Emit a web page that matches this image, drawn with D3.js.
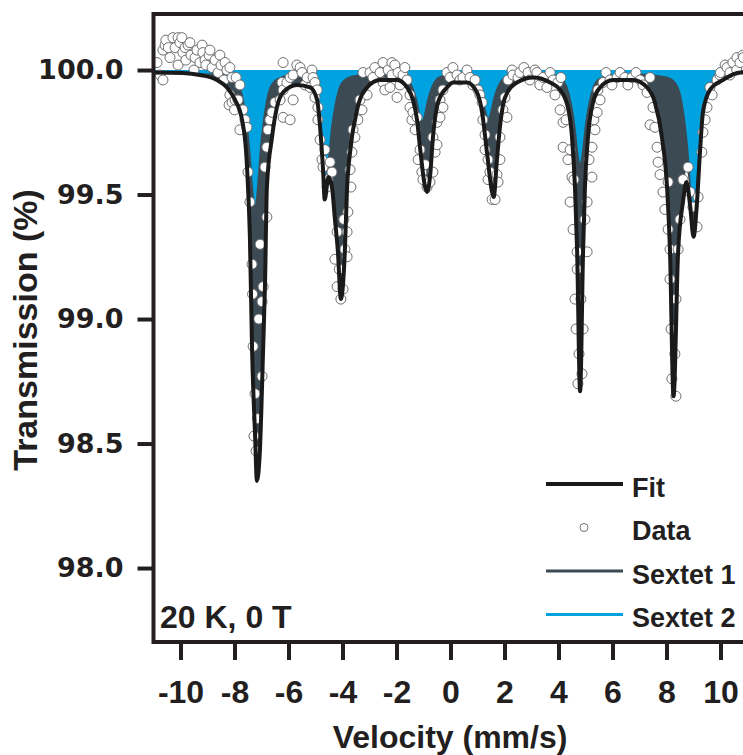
<!DOCTYPE html>
<html>
<head>
<meta charset="utf-8">
<title>Transmission vs velocity, 20 K</title>
<script src="https://cdn.jsdelivr.net/npm/d3@7"></script>
<style>
body { margin: 0; background: #fff; }
text { font-family: "Liberation Sans", Arial, sans-serif; font-weight: bold; fill: #231f20; }
</style>
</head>
<body>
<script>

// values (velocity mm/s, transmission %)
var xTicks = [-10, -8, -6, -4, -2, 0, 2, 4, 6, 8, 10]
var yTicks = [98.0, 98.5, 99.0, 99.5, 100.0]
var legendLabels = ["Fit", "Data", "Sextet 1", "Sextet 2"]
var condition = "20 K, 0 T"

var fitCurve = [[-11,99.99],[-9.91,99.988],[-9.28,99.98],[-8.65,99.96],[-8.28,99.93],[-7.98,99.88],[-7.72,99.80],[-7.57,99.67],[-7.5,99.53],[-7.43,99.33],[-7.35,98.88],[-7.24,98.54],[-7.17,98.35],[-7.06,98.47],[-6.94,98.88],[-6.87,99.14],[-6.80,99.53],[-6.61,99.73],[-6.43,99.85],[-6.2,99.91],[-5.69,99.94],[-5.2,99.93],[-4.94,99.88],[-4.83,99.77],[-4.72,99.60],[-4.66,99.48],[-4.52,99.57],[-4.39,99.53],[-4.28,99.40],[-4.17,99.27],[-4.06,99.08],[-3.98,99.14],[-3.91,99.28],[-3.83,99.53],[-3.72,99.67],[-3.46,99.84],[-3.09,99.93],[-2.61,99.96],[-1.98,99.96],[-1.61,99.93],[-1.39,99.88],[-1.24,99.80],[-1.13,99.69],[-0.94,99.53],[-0.87,99.51],[-0.76,99.57],[-0.65,99.73],[-0.46,99.87],[-0.13,99.93],[0.1,99.95],[0.61,99.95],[0.98,99.91],[1.17,99.83],[1.35,99.67],[1.54,99.51],[1.6,99.49],[1.72,99.64],[1.83,99.77],[2.02,99.89],[2.46,99.95],[3.06,99.97],[3.69,99.95],[4.06,99.92],[4.35,99.85],[4.5,99.73],[4.61,99.53],[4.69,99.27],[4.80,98.71],[4.91,99.27],[4.98,99.53],[5.09,99.73],[5.28,99.87],[5.54,99.93],[6.02,99.96],[6.76,99.96],[7.28,99.93],[7.57,99.87],[7.83,99.73],[8.02,99.53],[8.13,99.27],[8.26,98.69],[8.43,99.27],[8.61,99.47],[8.74,99.55],[8.88,99.45],[9.0,99.33],[9.13,99.47],[9.24,99.67],[9.35,99.83],[9.61,99.92],[10.09,99.96],[10.72,99.99],[11,99.99]]

var sextet1 = [[-11,99.995],[-9.91,99.99],[-9.28,99.985],[-8.65,99.965],[-8.28,99.935],[-7.98,99.885],[-7.72,99.81],[-7.57,99.68],[-7.5,99.54],[-7.43,99.35],[-7.35,98.93],[-7.24,98.6],[-7.17,98.45],[-7.06,98.55],[-6.94,98.92],[-6.87,99.16],[-6.80,99.54],[-6.61,99.74],[-6.43,99.855],[-6.2,99.915],[-5.69,99.945],[-5.2,99.935],[-4.94,99.885],[-4.83,99.78],[-4.72,99.61],[-4.66,99.52],[-4.52,99.6],[-4.39,99.54],[-4.28,99.41],[-4.17,99.28],[-4.06,99.12],[-3.98,99.16],[-3.91,99.29],[-3.83,99.54],[-3.72,99.68],[-3.46,99.845],[-3.09,99.935],[-2.61,99.965],[-1.98,99.965],[-1.61,99.935],[-1.39,99.885],[-1.24,99.81],[-1.13,99.7],[-0.94,99.54],[-0.87,99.53],[-0.76,99.58],[-0.65,99.74],[-0.46,99.875],[-0.13,99.935],[0.1,99.955],[0.61,99.955],[0.98,99.915],[1.17,99.84],[1.35,99.68],[1.54,99.52],[1.6,99.51],[1.72,99.65],[1.83,99.775],[2.02,99.895],[2.46,99.955],[3.06,99.975],[3.69,99.955],[4.06,99.925],[4.35,99.855],[4.5,99.74],[4.61,99.54],[4.69,99.3],[4.80,98.77],[4.91,99.3],[4.98,99.54],[5.09,99.74],[5.28,99.875],[5.54,99.935],[6.02,99.965],[6.76,99.965],[7.28,99.935],[7.57,99.875],[7.83,99.74],[8.02,99.54],[8.13,99.3],[8.26,98.75],[8.43,99.3],[8.61,99.5],[8.74,99.6],[8.88,99.5],[9.0,99.37],[9.13,99.49],[9.24,99.68],[9.35,99.835],[9.61,99.925],[10.09,99.965],[10.72,99.995],[11,99.995]]

var sextet2 = [[-11,99.988],[-8.6,99.986],
  [-8.24,99.975],[-7.89,99.951],[-7.69,99.898],[-7.54,99.802],[-7.41,99.670],[-7.32,99.537],[-7.24,99.458],[-7.16,99.537],[-7.07,99.670],[-6.94,99.802],[-6.79,99.898],[-6.59,99.951],[-6.24,99.975],
  [-5.93,99.982],
  [-5.62,99.978],[-5.27,99.959],[-5.07,99.918],[-4.92,99.844],[-4.79,99.742],[-4.70,99.639],[-4.62,99.578],[-4.54,99.639],[-4.45,99.742],[-4.32,99.844],[-4.17,99.918],[-3.97,99.959],[-3.62,99.978],
  [-2.8,99.988],
  [-2.05,99.983],[-1.70,99.975],[-1.50,99.956],[-1.35,99.921],[-1.22,99.874],[-1.13,99.826],[-1.05,99.798],[-0.97,99.826],[-0.88,99.874],[-0.75,99.921],[-0.60,99.956],[-0.40,99.975],[-0.05,99.983],
  [0.18,99.984],
  [0.40,99.984],[0.75,99.975],[0.95,99.957],[1.10,99.925],[1.23,99.880],[1.32,99.835],[1.40,99.808],[1.48,99.835],[1.57,99.880],[1.70,99.925],[1.85,99.957],[2.05,99.975],[2.40,99.984],
  [3.1,99.988],
  [3.80,99.979],[4.15,99.963],[4.35,99.927],[4.50,99.862],[4.63,99.772],[4.72,99.682],[4.80,99.628],[4.88,99.682],[4.97,99.772],[5.10,99.862],[5.25,99.927],[5.45,99.963],[5.80,99.979],
  [6.9,99.986],
  [8.00,99.974],[8.35,99.949],[8.55,99.893],[8.70,99.792],[8.83,99.652],[8.92,99.512],[9.00,99.428],[9.08,99.512],[9.17,99.652],[9.30,99.792],[9.45,99.893],[9.65,99.949],[10.00,99.974],
  [10.5,99.985],[11,99.988]]

var dataPoints = [[-10.87,100.03],[-10.76,99.98],[-10.65,100.08],[-10.65,99.96],[-10.57,100.10],[-10.54,100.12],[-10.45,100.09],[-10.39,100.05],[-10.28,100.13],[-10.2,100.09],[-10.09,100.02],[-10.09,100.13],[-10.02,100.11],[-9.95,100.13],[-9.91,100.07],[-9.83,100.09],[-9.8,100.04],[-9.72,100.1],[-9.65,100.11],[-9.61,100.06],[-9.5,100.0],[-9.46,100.05],[-9.39,100.08],[-9.28,100.03],[-9.2,100.1],[-9.17,100.07],[-9.09,100.04],[-9.06,100.02],[-8.94,100.06],[-8.91,100.08],[-8.83,100.01],[-8.72,100.04],[-8.61,99.99],[-8.54,100.06],[-8.5,100.02],[-8.39,99.96],[-8.35,100.03],[-8.28,100.0],[-8.2,99.86],[-8.17,99.9],[-8.17,100.01],[-8.09,99.97],[-8.09,99.87],[-8.0,99.84],[-7.98,99.88],[-7.94,99.97],[-7.87,99.88],[-7.8,99.76],[-7.8,99.94],[-7.69,99.84],[-7.61,99.8],[-7.54,99.77],[-7.5,99.59],[-7.43,99.47],[-7.35,99.22],[-7.33,99.1],[-7.31,98.89],[-7.28,98.53],[-7.24,98.7],[-7.2,98.47],[-7.15,98.6],[-7.1,99.0],[-7.05,99.3],[-6.98,98.77],[-6.98,99.07],[-6.94,99.13],[-6.87,99.61],[-6.8,99.41],[-6.8,99.69],[-6.76,99.76],[-6.69,99.8],[-6.61,99.83],[-6.5,99.87],[-6.31,99.88],[-6.24,99.95],[-6.2,99.92],[-6.2,99.81],[-6.2,100.03],[-6.06,99.95],[-5.94,99.97],[-5.94,99.8],[-5.83,99.88],[-5.83,99.98],[-5.69,100.02],[-5.57,100.01],[-5.5,99.99],[-5.39,99.94],[-5.31,99.97],[-5.2,99.93],[-5.13,100.0],[-5.09,99.97],[-5.02,99.89],[-5.02,99.95],[-4.94,99.92],[-4.91,99.85],[-4.91,99.8],[-4.83,99.72],[-4.76,99.64],[-4.72,99.61],[-4.65,99.68],[-4.57,99.53],[-4.54,99.56],[-4.46,99.63],[-4.39,99.59],[-4.28,99.24],[-4.2,99.35],[-4.2,99.13],[-4.12,99.2],[-4.06,99.08],[-3.98,99.12],[-3.95,99.4],[-3.91,99.28],[-3.83,99.25],[-3.83,99.35],[-3.8,99.43],[-3.72,99.6],[-3.69,99.53],[-3.65,99.67],[-3.61,99.76],[-3.54,99.73],[-3.43,99.8],[-3.35,99.88],[-3.28,99.84],[-3.24,99.99],[-3.09,99.9],[-2.98,99.99],[-2.87,99.97],[-2.8,100.01],[-2.61,99.99],[-2.5,100.03],[-2.5,99.95],[-2.43,99.92],[-2.31,100.0],[-2.24,99.93],[-2.17,99.98],[-2.17,100.03],[-2.06,100.02],[-1.98,99.89],[-1.94,99.99],[-1.87,99.94],[-1.76,99.98],[-1.69,100.01],[-1.61,99.96],[-1.5,99.85],[-1.5,99.9],[-1.43,99.8],[-1.39,99.83],[-1.31,99.76],[-1.24,99.81],[-1.2,99.64],[-1.13,99.68],[-1.06,99.59],[-1.02,99.56],[-0.94,99.62],[-0.87,99.53],[-0.76,99.55],[-0.65,99.59],[-0.65,99.73],[-0.57,99.67],[-0.5,99.79],[-0.5,99.7],[-0.39,99.81],[-0.39,99.88],[-0.28,99.85],[-0.28,99.92],[-0.13,99.99],[-0.02,99.97],[0.09,100.01],[0.24,99.98],[0.35,99.96],[0.46,99.97],[0.61,100.0],[0.72,99.97],[0.83,99.94],[0.91,99.96],[1.02,99.92],[1.09,99.9],[1.17,99.87],[1.2,99.8],[1.28,99.68],[1.28,99.74],[1.39,99.64],[1.39,99.56],[1.46,99.59],[1.54,99.48],[1.65,99.48],[1.72,99.58],[1.76,99.55],[1.83,99.64],[1.83,99.73],[1.94,99.84],[2.02,99.89],[2.09,99.81],[2.13,99.96],[2.28,100.0],[2.31,99.98],[2.5,99.97],[2.57,99.99],[2.72,100.01],[2.87,99.99],[2.94,99.96],[3.13,100.0],[3.2,99.99],[3.31,99.94],[3.43,99.97],[3.57,99.93],[3.69,99.99],[3.8,99.96],[3.87,99.9],[3.98,99.95],[4.06,99.84],[4.09,99.97],[4.17,99.79],[4.17,99.69],[4.28,99.8],[4.35,99.64],[4.43,99.47],[4.43,99.68],[4.5,99.57],[4.54,99.36],[4.57,99.56],[4.61,99.08],[4.65,98.96],[4.69,99.27],[4.69,99.2],[4.72,98.74],[4.76,98.86],[4.83,99.08],[4.87,98.78],[4.91,98.96],[4.98,99.4],[5.06,99.27],[5.06,99.47],[5.13,99.64],[5.24,99.57],[5.24,99.69],[5.31,99.8],[5.35,99.76],[5.43,99.83],[5.46,99.92],[5.54,99.88],[5.65,99.95],[5.76,99.99],[5.91,99.96],[5.98,99.94],[6.17,99.97],[6.28,99.99],[6.46,99.97],[6.57,99.94],[6.72,99.97],[6.87,99.99],[7.02,99.96],[7.13,99.94],[7.28,99.91],[7.39,99.97],[7.39,99.78],[7.5,99.85],[7.57,99.77],[7.65,99.69],[7.69,99.63],[7.76,99.58],[7.87,99.51],[7.94,99.44],[8.06,99.55],[8.06,99.36],[8.13,99.28],[8.13,99.16],[8.17,98.96],[8.2,98.76],[8.31,98.86],[8.35,99.08],[8.35,98.69],[8.43,99.28],[8.5,99.4],[8.61,99.56],[8.8,99.61],[8.87,99.51],[8.98,99.45],[9.13,99.37],[9.17,99.49],[9.31,99.67],[9.35,99.75],[9.43,99.8],[9.5,99.85],[9.61,99.93],[9.69,99.9],[9.87,99.96],[9.98,99.98],[10.0,99.99],[10.17,100.02],[10.24,100.01],[10.35,99.98],[10.35,99.99],[10.46,100.03],[10.6,100.0],[10.61,100.05],[10.72,100.03],[10.83,100.06],[10.85,100.05]]

// svg
var w = 743
var h = 755
var ink = "#231f20"
var dark = "#3b4a53"
var blue = "#00a3e0"

var svg = d3.select("body").append("svg").attr("width", w).attr("height", h)

var x = d3.scaleLinear().domain([-11, 11]).range([153.5, 747.5])
var y = d3.scaleLinear().domain([97.703, 100.225]).range([642, 14])

var line = d3.line().x(function(d) {return x(d[0])}).y(function(d) {return y(d[1])}).curve(d3.curveMonotoneX)
var area = d3.area().x(function(d) {return x(d[0])}).y0(y(100)).y1(function(d) {return y(d[1])}).curve(d3.curveMonotoneX)

svg.append("clipPath").attr("id", "plot")
    .append("rect").attr("x", 153.5).attr("y", 14).attr("width", 594).attr("height", 628)

var plot = svg.append("g").attr("clip-path", "url(#plot)")

// subspectra, blue over dark
plot.append("path").datum(sextet1).attr("d", area).attr("fill", dark)
plot.append("path").datum(sextet2).attr("d", area).attr("fill", blue)

plot.selectAll("circle")
    .data(dataPoints).enter()
    .append("circle")
    .attr("cx", function(d) {return x(d[0])})
    .attr("cy", function(d) {return y(d[1])})
    .attr("r", 5)
    .style("fill", "white")
    .style("stroke", "#6d6e71")
    .style("stroke-width", 1)

plot.append("path").datum(fitCurve).attr("d", line)
    .style("fill", "none")
    .style("stroke", "#1a1a1a")
    .style("stroke-width", 4)
    .style("stroke-linejoin", "round")

// axes
var yAxis = svg.append("g").attr("transform", "translate(153.5,0)")
    .call(d3.axisLeft(y).tickValues(yTicks).tickFormat(d3.format(".1f")).tickSize(16).tickPadding(14).tickSizeOuter(0))
var xAxis = svg.append("g").attr("transform", "translate(0,642)")
    .call(d3.axisBottom(x).tickValues(xTicks).tickFormat(function(d) {return String(d)}).tickSize(18).tickPadding(20).tickSizeOuter(0))

svg.selectAll(".domain").remove()
svg.selectAll(".tick line").style("stroke", ink).style("stroke-width", 4)
yAxis.selectAll("text").style("font-family", "'DejaVu Sans', sans-serif").style("font-size", "27px")
xAxis.selectAll("text").style("font-size", "32px")

// frame (right side runs off the page)
svg.append("path")
    .attr("d", "M747.5,14H153.5V642H747.5")
    .style("fill", "none")
    .style("stroke", ink)
    .style("stroke-width", 4)
    .style("stroke-linejoin", "miter")

// axis titles
svg.append("text")
    .attr("x", 450)
    .attr("y", 748)
    .attr("text-anchor", "middle")
    .style("font-size", "32px")
    .text("Velocity (mm/s)")
svg.append("text")
    .attr("transform", "translate(37,330) rotate(-90)")
    .attr("text-anchor", "middle")
    .style("font-size", "34px")
    .text("Transmission (%)")

svg.append("text")
    .attr("x", 160)
    .attr("y", 628)
    .style("font-size", "32px")
    .text(condition)

// legend
var legend = svg.append("g").attr("transform", "translate(546,484)")
legendLabels.forEach(function(lab, i) {
    var ly = i * 43.5
    if (lab == "Data") {
        legend.append("circle").attr("cx", 38).attr("cy", ly).attr("r", 4)
            .style("fill", "white").style("stroke", "#6d6e71").style("stroke-width", 1)
    } else {
        legend.append("line").attr("x1", 0).attr("x2", 77).attr("y1", ly).attr("y2", ly)
            .style("stroke", lab == "Fit" ? "#1a1a1a" : (lab == "Sextet 1" ? dark : blue))
            .style("stroke-width", lab == "Fit" ? 4 : 3)
    }
    legend.append("text")
        .attr("x", 86)
        .attr("y", ly + 12.5)
        .style("font-size", "27px")
        .text(lab)
})

</script>
</body>
</html>
